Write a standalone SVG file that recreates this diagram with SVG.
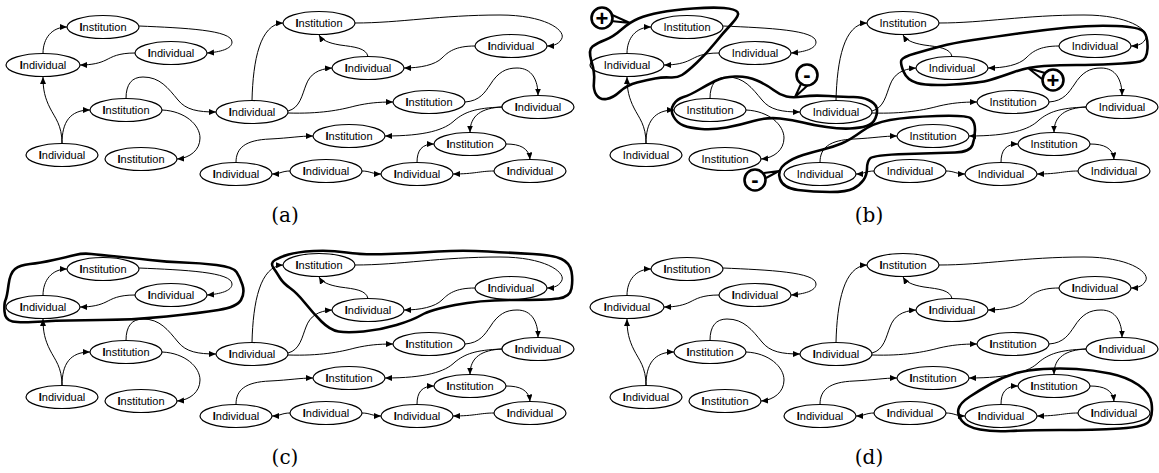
<svg xmlns="http://www.w3.org/2000/svg" width="1159" height="473" viewBox="0 0 1159 473">
<defs>
<marker id="ah" markerWidth="8" markerHeight="6" refX="7" refY="3" orient="auto" markerUnits="userSpaceOnUse"><path d="M0,0 L7,3 L0,6 z" fill="#000"/></marker>
<style>
.node ellipse{fill:#fff;stroke:#000;stroke-width:1.2}
.lbl{font-family:"Liberation Sans",Arial,sans-serif;font-size:11px;text-anchor:middle;fill:#000}
.b{font-weight:bold}
.edge{fill:none;stroke:#000;stroke-width:1;marker-end:url(#ah)}
.blob{fill:none;stroke:#000;stroke-width:2.6;stroke-linejoin:round;stroke-linecap:round}
.tag circle{fill:#fff;stroke:#000;stroke-width:2.6}
.tag path{fill:#fff;stroke:#000;stroke-width:2;stroke-linejoin:round}
.sign{font-family:"Liberation Sans",Arial,sans-serif;font-size:22px;font-weight:bold;text-anchor:middle}
.cap{font-family:"DejaVu Serif","Liberation Serif",serif;font-size:20px;text-anchor:middle}
</style>
</defs>
<rect width="1159" height="473" fill="#fff"/>

<!-- Panel (a) -->
<g id="panel-a">
<g id="connectors-a">
<path class="edge" d="M43,53.5 C43,38 52,27 67,27"/>
<path class="edge" d="M139,26 C185,28 232,30 232,42 C232,49 220,52 207,53"/>
<path class="edge" d="M135,53 C118,53 112,57 106,60 C100,63 92,65 80,65"/>
<path class="edge" d="M62,143.5 C62,125 55,118 50,108 C45,98 43,90 43,77"/>
<path class="edge" d="M62,143.5 C62,122 70,110 90,110"/>
<path class="edge" d="M126,98.5 C126,84 132,77 143,77 C160,77 168,88 178,100 C186,110 198,112 216,112"/>
<path class="edge" d="M162,110 C185,111 200,125 200,138 C200,150 190,158 177,159"/>
<path class="edge" d="M252,100.5 C253,60 260,24 283,23"/>
<path class="edge" d="M288,111 C300,108 302,95 306,85 C310,74 318,69 332,68"/>
<path class="edge" d="M288,113 C320,114 340,110 355,106 C368,103 378,102 393,102"/>
<path class="edge" d="M368,56.5 C366,48 355,47 340,45 C328,43 322,40 319,35"/>
<path class="edge" d="M355,23 C400,23 440,15 500,15 C545,15 565,30 562,38 C560,43 555,46 547,46"/>
<path class="edge" d="M475,46 C455,46 448,52 442,58 C435,65 420,68 404,68"/>
<path class="edge" d="M465,102 C480,101 485,92 490,85 C498,72 506,68 517,68 C532,68 538,80 538,95.5"/>
<path class="edge" d="M502,107 C475,108 465,112 455,120 C445,130 425,136 385,136"/>
<path class="edge" d="M236,162.5 C236,148 245,140 270,139 C290,138 300,136 313,136"/>
<path class="edge" d="M502,107 C482,108 470,115 470,132.5"/>
<path class="edge" d="M506,144 C520,144 529,148 530,159.5"/>
<path class="edge" d="M494,171 C480,171 475,174 453,174"/>
<path class="edge" d="M417,162.5 C417,150 422,144 434,144"/>
<path class="edge" d="M362,171 C370,171 372,174 381,174"/>
<path class="edge" d="M290,171 C282,171 280,174 272,174"/>
</g>
<g id="a-n1" class="node"><ellipse cx="103" cy="27" rx="36" ry="11.5"/><text class="lbl" x="103" y="31"><tspan class="b">I</tspan>nstitution</text></g>
<g id="a-n2" class="node"><ellipse cx="171" cy="53" rx="36" ry="11.5"/><text class="lbl" x="171" y="57"><tspan class="b">I</tspan>ndividual</text></g>
<g id="a-n3" class="node"><ellipse cx="43" cy="65" rx="37" ry="11.5"/><text class="lbl" x="43" y="69"><tspan class="b">I</tspan>ndividual</text></g>
<g id="a-n4" class="node"><ellipse cx="126" cy="110" rx="36" ry="11.5"/><text class="lbl" x="126" y="114"><tspan class="b">I</tspan>nstitution</text></g>
<g id="a-n5" class="node"><ellipse cx="62" cy="155" rx="36" ry="11.5"/><text class="lbl" x="62" y="159"><tspan class="b">I</tspan>ndividual</text></g>
<g id="a-n6" class="node"><ellipse cx="141" cy="159" rx="36" ry="11.5"/><text class="lbl" x="141" y="163"><tspan class="b">I</tspan>nstitution</text></g>
<g id="a-n7" class="node"><ellipse cx="252" cy="112" rx="36" ry="11.5"/><text class="lbl" x="252" y="116"><tspan class="b">I</tspan>ndividual</text></g>
<g id="a-n8" class="node"><ellipse cx="236" cy="174" rx="36" ry="11.5"/><text class="lbl" x="236" y="178"><tspan class="b">I</tspan>ndividual</text></g>
<g id="a-n9" class="node"><ellipse cx="319" cy="23" rx="36" ry="11.5"/><text class="lbl" x="319" y="27"><tspan class="b">I</tspan>nstitution</text></g>
<g id="a-n10" class="node"><ellipse cx="511" cy="46" rx="36" ry="11.5"/><text class="lbl" x="511" y="50"><tspan class="b">I</tspan>ndividual</text></g>
<g id="a-n11" class="node"><ellipse cx="368" cy="68" rx="36" ry="11.5"/><text class="lbl" x="368" y="72"><tspan class="b">I</tspan>ndividual</text></g>
<g id="a-n12" class="node"><ellipse cx="429" cy="102" rx="36" ry="11.5"/><text class="lbl" x="429" y="106"><tspan class="b">I</tspan>nstitution</text></g>
<g id="a-n13" class="node"><ellipse cx="538" cy="107" rx="36" ry="11.5"/><text class="lbl" x="538" y="111"><tspan class="b">I</tspan>ndividual</text></g>
<g id="a-n14" class="node"><ellipse cx="349" cy="136" rx="36" ry="11.5"/><text class="lbl" x="349" y="140"><tspan class="b">I</tspan>nstitution</text></g>
<g id="a-n15" class="node"><ellipse cx="470" cy="144" rx="36" ry="11.5"/><text class="lbl" x="470" y="148"><tspan class="b">I</tspan>nstitution</text></g>
<g id="a-n16" class="node"><ellipse cx="326" cy="171" rx="36" ry="11.5"/><text class="lbl" x="326" y="175"><tspan class="b">I</tspan>ndividual</text></g>
<g id="a-n17" class="node"><ellipse cx="417" cy="174" rx="36" ry="11.5"/><text class="lbl" x="417" y="178"><tspan class="b">I</tspan>ndividual</text></g>
<g id="a-n18" class="node"><ellipse cx="530" cy="171" rx="36" ry="11.5"/><text class="lbl" x="530" y="175"><tspan class="b">I</tspan>ndividual</text></g>
<text class="cap" x="285" y="222">(a)</text>
</g>

<!-- Panel (b) -->
<g id="panel-b">
<g id="connectors-b" transform="translate(584,0)">
<path class="edge" d="M43,53.5 C43,38 52,27 67,27"/>
<path class="edge" d="M139,26 C185,28 232,30 232,42 C232,49 220,52 207,53"/>
<path class="edge" d="M135,53 C118,53 112,57 106,60 C100,63 92,65 80,65"/>
<path class="edge" d="M62,143.5 C62,125 55,118 50,108 C45,98 43,90 43,77"/>
<path class="edge" d="M62,143.5 C62,122 70,110 90,110"/>
<path class="edge" d="M126,98.5 C126,84 132,77 143,77 C160,77 168,88 178,100 C186,110 198,112 216,112"/>
<path class="edge" d="M162,110 C185,111 200,125 200,138 C200,150 190,158 177,159"/>
<path class="edge" d="M252,100.5 C253,60 260,24 283,23"/>
<path class="edge" d="M288,111 C300,108 302,95 306,85 C310,74 318,69 332,68"/>
<path class="edge" d="M288,113 C320,114 340,110 355,106 C368,103 378,102 393,102"/>
<path class="edge" d="M368,56.5 C366,48 355,47 340,45 C328,43 322,40 319,35"/>
<path class="edge" d="M355,23 C400,23 440,15 500,15 C545,15 565,30 562,38 C560,43 555,46 547,46"/>
<path class="edge" d="M475,46 C455,46 448,52 442,58 C435,65 420,68 404,68"/>
<path class="edge" d="M465,102 C480,101 485,92 490,85 C498,72 506,68 517,68 C532,68 538,80 538,95.5"/>
<path class="edge" d="M502,107 C475,108 465,112 455,120 C445,130 425,136 385,136"/>
<path class="edge" d="M236,162.5 C236,148 245,140 270,139 C290,138 300,136 313,136"/>
<path class="edge" d="M502,107 C482,108 470,115 470,132.5"/>
<path class="edge" d="M506,144 C520,144 529,148 530,159.5"/>
<path class="edge" d="M494,171 C480,171 475,174 453,174"/>
<path class="edge" d="M417,162.5 C417,150 422,144 434,144"/>
<path class="edge" d="M362,171 C370,171 372,174 381,174"/>
<path class="edge" d="M290,171 C282,171 280,174 272,174"/>
</g>
<g transform="translate(584,0)">
<g id="b-n1" class="node"><ellipse cx="103" cy="27" rx="36" ry="11.5"/><text class="lbl" x="103" y="31">Institution</text></g>
<g id="b-n2" class="node"><ellipse cx="171" cy="53" rx="36" ry="11.5"/><text class="lbl" x="171" y="57">Individual</text></g>
<g id="b-n3" class="node"><ellipse cx="43" cy="65" rx="37" ry="11.5"/><text class="lbl" x="43" y="69">Individual</text></g>
<g id="b-n4" class="node"><ellipse cx="126" cy="110" rx="36" ry="11.5"/><text class="lbl" x="126" y="114">Institution</text></g>
<g id="b-n5" class="node"><ellipse cx="62" cy="155" rx="36" ry="11.5"/><text class="lbl" x="62" y="159">Individual</text></g>
<g id="b-n6" class="node"><ellipse cx="141" cy="159" rx="36" ry="11.5"/><text class="lbl" x="141" y="163">Institution</text></g>
<g id="b-n7" class="node"><ellipse cx="252" cy="112" rx="36" ry="11.5"/><text class="lbl" x="252" y="116">Individual</text></g>
<g id="b-n8" class="node"><ellipse cx="236" cy="174" rx="36" ry="11.5"/><text class="lbl" x="236" y="178">Individual</text></g>
<g id="b-n9" class="node"><ellipse cx="319" cy="23" rx="36" ry="11.5"/><text class="lbl" x="319" y="27">Institution</text></g>
<g id="b-n10" class="node"><ellipse cx="511" cy="46" rx="36" ry="11.5"/><text class="lbl" x="511" y="50">Individual</text></g>
<g id="b-n11" class="node"><ellipse cx="368" cy="68" rx="36" ry="11.5"/><text class="lbl" x="368" y="72">Individual</text></g>
<g id="b-n12" class="node"><ellipse cx="429" cy="102" rx="36" ry="11.5"/><text class="lbl" x="429" y="106">Institution</text></g>
<g id="b-n13" class="node"><ellipse cx="538" cy="107" rx="36" ry="11.5"/><text class="lbl" x="538" y="111">Individual</text></g>
<g id="b-n14" class="node"><ellipse cx="349" cy="136" rx="36" ry="11.5"/><text class="lbl" x="349" y="140">Institution</text></g>
<g id="b-n15" class="node"><ellipse cx="470" cy="144" rx="36" ry="11.5"/><text class="lbl" x="470" y="148">Institution</text></g>
<g id="b-n16" class="node"><ellipse cx="326" cy="171" rx="36" ry="11.5"/><text class="lbl" x="326" y="175">Individual</text></g>
<g id="b-n17" class="node"><ellipse cx="417" cy="174" rx="36" ry="11.5"/><text class="lbl" x="417" y="178">Individual</text></g>
<g id="b-n18" class="node"><ellipse cx="530" cy="171" rx="36" ry="11.5"/><text class="lbl" x="530" y="175">Individual</text></g>
</g>
<g id="b-groups">
<path class="blob" d="M638.5,18.5 Q647,15 660,12.5 Q673,10 693,8.5 Q713,7 724,8 Q735,9 737.5,12 Q740,15 731.5,24 Q723,33 715,43 Q707,53 697,62.5 Q687,72 682,75 Q677,78 670,77.5 Q663,77 655,78.5 Q647,80 637,82.5 Q627,85 620,91.5 Q613,98 606.5,99 Q600,100 596.5,95 Q593,90 594,81.5 Q595,73 591.5,61.5 Q588,50 592.5,46.5 Q597,43 605,40 Q613,37 621.5,29.5 Q630,22 638.5,18.5 Z"/>
<path class="blob" d="M803,96.5 Q813,95 829,96 Q845,97 853.5,97 Q862,97 868.5,100 Q875,103 876.5,107.5 Q878,112 875.5,118 Q873,124 866.5,126 Q860,128 850,128.5 Q840,129 826.5,127 Q813,125 803,122.5 Q793,120 780,118.5 Q767,117 753.5,121 Q740,125 726.5,127.5 Q713,130 701.5,129 Q690,128 683.5,125.5 Q677,123 673.5,116.5 Q670,110 673.5,104.5 Q677,99 683.5,97 Q690,95 698.5,90 Q707,85 715,81 Q723,77 735,76.5 Q747,76 757,80.5 Q767,85 773.5,90 Q780,95 786.5,96.5 Q793,98 803,96.5 Z"/>
<path class="blob" d="M1014,72 Q1000,77 990,80 Q980,83 953.5,84.5 Q927,86 917,83 Q907,80 903.5,71.5 Q900,63 901.5,60 Q903,57 915,53.5 Q927,50 940,46.5 Q953,43 973,40 Q993,37 1018,33.5 Q1043,30 1068,27.5 Q1093,25 1116.5,26 Q1140,27 1144,32 Q1148,37 1147.5,48.5 Q1147,60 1140,61.5 Q1133,63 1113,64 Q1093,65 1076.5,65 Q1060,65 1044,66 Q1028,67 1014,72 Z"/>
<path class="blob" d="M785,164 Q793,158 803,155 Q813,152 823,149.5 Q833,147 841.5,143.5 Q850,140 861.5,131.5 Q873,123 890,120 Q907,117 937,116 Q967,115 971,118.5 Q975,122 975,130 Q975,138 972.5,145 Q970,152 955,152.5 Q940,153 906.5,154 Q873,155 870,158.5 Q867,162 867,168.5 Q867,175 863.5,180 Q860,185 853.5,188.5 Q847,192 830,192 Q813,192 798,190 Q783,188 780,179 Q777,170 785,164 Z"/>
</g>
<g id="b-tags">
<g class="tag"><path d="M610,14 L630,23 L611,21"/><circle cx="602" cy="18" r="10.5"/><text class="sign" x="602" y="26">+</text></g>
<g class="tag"><path d="M801,84 L795,97 L808,85"/><circle cx="807" cy="75" r="10.5"/><text class="sign" x="807" y="82">-</text></g>
<g class="tag"><path d="M1045,73 L1028,68 L1042,79"/><circle cx="1053" cy="80" r="10.5"/><text class="sign" x="1053" y="88">+</text></g>
<g class="tag"><path d="M764,173 L779,171 L766,178"/><circle cx="755" cy="180" r="10.5"/><text class="sign" x="755" y="187">-</text></g>
</g>
<text class="cap" x="869" y="222">(b)</text>
</g>

<!-- Panel (c) -->
<g id="panel-c">
<g id="connectors-c" transform="translate(0,242)">
<path class="edge" d="M43,53.5 C43,38 52,27 67,27"/>
<path class="edge" d="M139,26 C185,28 232,30 232,42 C232,49 220,52 207,53"/>
<path class="edge" d="M135,53 C118,53 112,57 106,60 C100,63 92,65 80,65"/>
<path class="edge" d="M62,143.5 C62,125 55,118 50,108 C45,98 43,90 43,77"/>
<path class="edge" d="M62,143.5 C62,122 70,110 90,110"/>
<path class="edge" d="M126,98.5 C126,84 132,77 143,77 C160,77 168,88 178,100 C186,110 198,112 216,112"/>
<path class="edge" d="M162,110 C185,111 200,125 200,138 C200,150 190,158 177,159"/>
<path class="edge" d="M252,100.5 C253,60 260,24 283,23"/>
<path class="edge" d="M288,111 C300,108 302,95 306,85 C310,74 318,69 332,68"/>
<path class="edge" d="M288,113 C320,114 340,110 355,106 C368,103 378,102 393,102"/>
<path class="edge" d="M368,56.5 C366,48 355,47 340,45 C328,43 322,40 319,35"/>
<path class="edge" d="M355,23 C400,23 440,15 500,15 C545,15 565,30 562,38 C560,43 555,46 547,46"/>
<path class="edge" d="M475,46 C455,46 448,52 442,58 C435,65 420,68 404,68"/>
<path class="edge" d="M465,102 C480,101 485,92 490,85 C498,72 506,68 517,68 C532,68 538,80 538,95.5"/>
<path class="edge" d="M502,107 C475,108 465,112 455,120 C445,130 425,136 385,136"/>
<path class="edge" d="M236,162.5 C236,148 245,140 270,139 C290,138 300,136 313,136"/>
<path class="edge" d="M502,107 C482,108 470,115 470,132.5"/>
<path class="edge" d="M506,144 C520,144 529,148 530,159.5"/>
<path class="edge" d="M494,171 C480,171 475,174 453,174"/>
<path class="edge" d="M417,162.5 C417,150 422,144 434,144"/>
<path class="edge" d="M362,171 C370,171 372,174 381,174"/>
<path class="edge" d="M290,171 C282,171 280,174 272,174"/>
</g>
<g transform="translate(0,242)">
<g id="c-n1" class="node"><ellipse cx="103" cy="27" rx="36" ry="11.5"/><text class="lbl" x="103" y="31"><tspan class="b">I</tspan>nstitution</text></g>
<g id="c-n2" class="node"><ellipse cx="171" cy="53" rx="36" ry="11.5"/><text class="lbl" x="171" y="57"><tspan class="b">I</tspan>ndividual</text></g>
<g id="c-n3" class="node"><ellipse cx="43" cy="65" rx="37" ry="11.5"/><text class="lbl" x="43" y="69"><tspan class="b">I</tspan>ndividual</text></g>
<g id="c-n4" class="node"><ellipse cx="126" cy="110" rx="36" ry="11.5"/><text class="lbl" x="126" y="114"><tspan class="b">I</tspan>nstitution</text></g>
<g id="c-n5" class="node"><ellipse cx="62" cy="155" rx="36" ry="11.5"/><text class="lbl" x="62" y="159"><tspan class="b">I</tspan>ndividual</text></g>
<g id="c-n6" class="node"><ellipse cx="141" cy="159" rx="36" ry="11.5"/><text class="lbl" x="141" y="163"><tspan class="b">I</tspan>nstitution</text></g>
<g id="c-n7" class="node"><ellipse cx="252" cy="112" rx="36" ry="11.5"/><text class="lbl" x="252" y="116"><tspan class="b">I</tspan>ndividual</text></g>
<g id="c-n8" class="node"><ellipse cx="236" cy="174" rx="36" ry="11.5"/><text class="lbl" x="236" y="178"><tspan class="b">I</tspan>ndividual</text></g>
<g id="c-n9" class="node"><ellipse cx="319" cy="23" rx="36" ry="11.5"/><text class="lbl" x="319" y="27"><tspan class="b">I</tspan>nstitution</text></g>
<g id="c-n10" class="node"><ellipse cx="511" cy="46" rx="36" ry="11.5"/><text class="lbl" x="511" y="50"><tspan class="b">I</tspan>ndividual</text></g>
<g id="c-n11" class="node"><ellipse cx="368" cy="68" rx="36" ry="11.5"/><text class="lbl" x="368" y="72"><tspan class="b">I</tspan>ndividual</text></g>
<g id="c-n12" class="node"><ellipse cx="429" cy="102" rx="36" ry="11.5"/><text class="lbl" x="429" y="106"><tspan class="b">I</tspan>nstitution</text></g>
<g id="c-n13" class="node"><ellipse cx="538" cy="107" rx="36" ry="11.5"/><text class="lbl" x="538" y="111"><tspan class="b">I</tspan>ndividual</text></g>
<g id="c-n14" class="node"><ellipse cx="349" cy="136" rx="36" ry="11.5"/><text class="lbl" x="349" y="140"><tspan class="b">I</tspan>nstitution</text></g>
<g id="c-n15" class="node"><ellipse cx="470" cy="144" rx="36" ry="11.5"/><text class="lbl" x="470" y="148"><tspan class="b">I</tspan>nstitution</text></g>
<g id="c-n16" class="node"><ellipse cx="326" cy="171" rx="36" ry="11.5"/><text class="lbl" x="326" y="175"><tspan class="b">I</tspan>ndividual</text></g>
<g id="c-n17" class="node"><ellipse cx="417" cy="174" rx="36" ry="11.5"/><text class="lbl" x="417" y="178"><tspan class="b">I</tspan>ndividual</text></g>
<g id="c-n18" class="node"><ellipse cx="530" cy="171" rx="36" ry="11.5"/><text class="lbl" x="530" y="175"><tspan class="b">I</tspan>ndividual</text></g>
</g>
<g id="c-groups">
<path class="blob" d="M4.5,311.5 Q4,303 5.5,300 Q7,297 8.5,285 Q10,273 15,269 Q20,265 30,264 Q40,263 53.5,260 Q67,257 75,255 Q83,253 91.5,254 Q100,255 116.5,256.5 Q133,258 150,260 Q167,262 183.5,262.5 Q200,263 216.5,265 Q233,267 236.5,272 Q240,277 242.5,285 Q245,293 241,300 Q237,307 218.5,310 Q200,313 166.5,316.5 Q133,320 100,320 Q67,320 43.5,321.5 Q20,323 12.5,321.5 Q5,320 4.5,311.5 Z"/>
<path class="blob" d="M288.5,254.5 Q297,252 313.5,251 Q330,250 346.5,252.5 Q363,255 388,254 Q413,253 438,251.5 Q463,250 488,251.5 Q513,253 533,254 Q553,255 561.5,259 Q570,263 571.5,271.5 Q573,280 571.5,288.5 Q570,297 558.5,298.5 Q547,300 513.5,300 Q480,300 455,305 Q430,310 421.5,315 Q413,320 396.5,325 Q380,330 363.5,331.5 Q347,333 338.5,331.5 Q330,330 321.5,321.5 Q313,313 305,303 Q297,293 290,288 Q283,283 280,278 Q277,273 273.5,268 Q270,263 275,260 Q280,257 288.5,254.5 Z"/>
</g>
<text class="cap" x="285" y="464">(c)</text>
</g>

<!-- Panel (d) -->
<g id="panel-d">
<g id="connectors-d" transform="translate(584,242)">
<path class="edge" d="M43,53.5 C43,38 52,27 67,27"/>
<path class="edge" d="M139,26 C185,28 232,30 232,42 C232,49 220,52 207,53"/>
<path class="edge" d="M135,53 C118,53 112,57 106,60 C100,63 92,65 80,65"/>
<path class="edge" d="M62,143.5 C62,125 55,118 50,108 C45,98 43,90 43,77"/>
<path class="edge" d="M62,143.5 C62,122 70,110 90,110"/>
<path class="edge" d="M126,98.5 C126,84 132,77 143,77 C160,77 168,88 178,100 C186,110 198,112 216,112"/>
<path class="edge" d="M162,110 C185,111 200,125 200,138 C200,150 190,158 177,159"/>
<path class="edge" d="M252,100.5 C253,60 260,24 283,23"/>
<path class="edge" d="M288,111 C300,108 302,95 306,85 C310,74 318,69 332,68"/>
<path class="edge" d="M288,113 C320,114 340,110 355,106 C368,103 378,102 393,102"/>
<path class="edge" d="M368,56.5 C366,48 355,47 340,45 C328,43 322,40 319,35"/>
<path class="edge" d="M355,23 C400,23 440,15 500,15 C545,15 565,30 562,38 C560,43 555,46 547,46"/>
<path class="edge" d="M475,46 C455,46 448,52 442,58 C435,65 420,68 404,68"/>
<path class="edge" d="M465,102 C480,101 485,92 490,85 C498,72 506,68 517,68 C532,68 538,80 538,95.5"/>
<path class="edge" d="M502,107 C475,108 465,112 455,120 C445,130 425,136 385,136"/>
<path class="edge" d="M236,162.5 C236,148 245,140 270,139 C290,138 300,136 313,136"/>
<path class="edge" d="M502,107 C482,108 470,115 470,132.5"/>
<path class="edge" d="M506,144 C520,144 529,148 530,159.5"/>
<path class="edge" d="M494,171 C480,171 475,174 453,174"/>
<path class="edge" d="M417,162.5 C417,150 422,144 434,144"/>
<path class="edge" d="M362,171 C370,171 372,174 381,174"/>
<path class="edge" d="M290,171 C282,171 280,174 272,174"/>
</g>
<g transform="translate(584,242)">
<g id="d-n1" class="node"><ellipse cx="103" cy="27" rx="36" ry="11.5"/><text class="lbl" x="103" y="31"><tspan class="b">I</tspan>nstitution</text></g>
<g id="d-n2" class="node"><ellipse cx="171" cy="53" rx="36" ry="11.5"/><text class="lbl" x="171" y="57"><tspan class="b">I</tspan>ndividual</text></g>
<g id="d-n3" class="node"><ellipse cx="43" cy="65" rx="37" ry="11.5"/><text class="lbl" x="43" y="69"><tspan class="b">I</tspan>ndividual</text></g>
<g id="d-n4" class="node"><ellipse cx="126" cy="110" rx="36" ry="11.5"/><text class="lbl" x="126" y="114"><tspan class="b">I</tspan>nstitution</text></g>
<g id="d-n5" class="node"><ellipse cx="62" cy="155" rx="36" ry="11.5"/><text class="lbl" x="62" y="159"><tspan class="b">I</tspan>ndividual</text></g>
<g id="d-n6" class="node"><ellipse cx="141" cy="159" rx="36" ry="11.5"/><text class="lbl" x="141" y="163"><tspan class="b">I</tspan>nstitution</text></g>
<g id="d-n7" class="node"><ellipse cx="252" cy="112" rx="36" ry="11.5"/><text class="lbl" x="252" y="116"><tspan class="b">I</tspan>ndividual</text></g>
<g id="d-n8" class="node"><ellipse cx="236" cy="174" rx="36" ry="11.5"/><text class="lbl" x="236" y="178"><tspan class="b">I</tspan>ndividual</text></g>
<g id="d-n9" class="node"><ellipse cx="319" cy="23" rx="36" ry="11.5"/><text class="lbl" x="319" y="27"><tspan class="b">I</tspan>nstitution</text></g>
<g id="d-n10" class="node"><ellipse cx="511" cy="46" rx="36" ry="11.5"/><text class="lbl" x="511" y="50"><tspan class="b">I</tspan>ndividual</text></g>
<g id="d-n11" class="node"><ellipse cx="368" cy="68" rx="36" ry="11.5"/><text class="lbl" x="368" y="72"><tspan class="b">I</tspan>ndividual</text></g>
<g id="d-n12" class="node"><ellipse cx="429" cy="102" rx="36" ry="11.5"/><text class="lbl" x="429" y="106"><tspan class="b">I</tspan>nstitution</text></g>
<g id="d-n13" class="node"><ellipse cx="538" cy="107" rx="36" ry="11.5"/><text class="lbl" x="538" y="111"><tspan class="b">I</tspan>ndividual</text></g>
<g id="d-n14" class="node"><ellipse cx="349" cy="136" rx="36" ry="11.5"/><text class="lbl" x="349" y="140"><tspan class="b">I</tspan>nstitution</text></g>
<g id="d-n15" class="node"><ellipse cx="470" cy="144" rx="36" ry="11.5"/><text class="lbl" x="470" y="148"><tspan class="b">I</tspan>nstitution</text></g>
<g id="d-n16" class="node"><ellipse cx="326" cy="171" rx="36" ry="11.5"/><text class="lbl" x="326" y="175"><tspan class="b">I</tspan>ndividual</text></g>
<g id="d-n17" class="node"><ellipse cx="417" cy="174" rx="36" ry="11.5"/><text class="lbl" x="417" y="178"><tspan class="b">I</tspan>ndividual</text></g>
<g id="d-n18" class="node"><ellipse cx="530" cy="171" rx="36" ry="11.5"/><text class="lbl" x="530" y="175"><tspan class="b">I</tspan>ndividual</text></g>
</g>
<g id="d-groups">
<path class="blob" d="M958.5,409 Q960,403 970,396.5 Q980,390 991.5,383.5 Q1003,377 1015,373.5 Q1027,370 1043.5,369 Q1060,368 1076.5,369 Q1093,370 1110,373.5 Q1127,377 1138.5,385 Q1150,393 1151.5,403 Q1153,413 1150,420 Q1147,427 1120,428.5 Q1093,430 1060,430 Q1027,430 1010,431 Q993,432 980,429.5 Q967,427 962,421 Q957,415 958.5,409 Z"/>
</g>
<text class="cap" x="869" y="464">(d)</text>
</g>
</svg>
